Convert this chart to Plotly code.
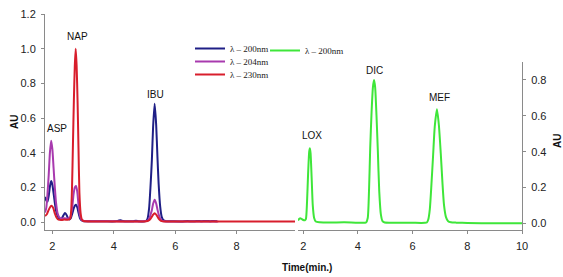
import plotly.graph_objects as go

# ---------------- data ----------------
# Left panel: three wavelengths
t_blue = [1.76, 1.80, 1.84, 1.88, 1.92, 1.96, 2.00, 2.04, 2.08, 2.12, 2.17, 2.22, 2.27, 2.32, 2.37,
          2.41, 2.45, 2.50, 2.55, 2.60, 2.65, 2.70, 2.74, 2.77, 2.81, 2.85, 2.90, 2.95, 3.02, 3.3,
          3.7, 4.05, 4.15, 4.22, 4.30, 4.45, 4.62, 4.72, 4.82, 5.00, 5.05, 5.10, 5.15, 5.20, 5.24,
          5.28, 5.33, 5.38, 5.42, 5.46, 5.51, 5.56, 5.62, 5.70, 5.9, 6.2, 6.4, 6.55, 6.7, 6.85,
          7.0, 7.15, 7.25, 7.36]
v_blue = [0.145, 0.125, 0.118, 0.150, 0.205, 0.236, 0.215, 0.165, 0.110, 0.065, 0.035, 0.020, 0.015, 0.025, 0.042,
          0.052, 0.045, 0.025, 0.015, 0.022, 0.050, 0.082, 0.096, 0.100, 0.085, 0.055, 0.022, 0.010, 0.005, 0.004,
          0.004, 0.004, 0.008, 0.010, 0.006, 0.004, 0.005, 0.008, 0.005, 0.004, 0.006, 0.020, 0.080, 0.220, 0.360,
          0.550, 0.682, 0.560, 0.380, 0.220, 0.090, 0.030, 0.010, 0.005, 0.004, 0.003, 0.006, 0.004, 0.006, 0.005,
          0.006, 0.005, 0.006, 0.004]

t_purple = [1.76, 1.80, 1.84, 1.88, 1.92, 1.96, 2.00, 2.04, 2.08, 2.12, 2.17, 2.22, 2.30, 2.40, 2.50,
            2.58, 2.64, 2.69, 2.73, 2.77, 2.81, 2.85, 2.89, 2.94, 3.00, 3.3, 4.0, 5.00, 5.10, 5.15,
            5.20, 5.24, 5.28, 5.33, 5.38, 5.42, 5.46, 5.51, 5.56, 5.62, 5.8, 6.5, 7.4]
v_purple = [0.055, 0.080, 0.160, 0.270, 0.400, 0.469, 0.420, 0.310, 0.200, 0.110, 0.050, 0.028, 0.020, 0.022, 0.020,
            0.028, 0.075, 0.160, 0.200, 0.208, 0.175, 0.100, 0.045, 0.015, 0.007, 0.004, 0.004, 0.004, 0.008, 0.018,
            0.045, 0.070, 0.105, 0.128, 0.107, 0.073, 0.045, 0.020, 0.008, 0.004, 0.003, 0.003, 0.003]

t_red = [1.76, 1.82, 1.88, 1.94, 1.98, 2.03, 2.08, 2.14, 2.20, 2.30, 2.40, 2.50, 2.58, 2.61, 2.64,
         2.67, 2.70, 2.73, 2.76, 2.79, 2.82, 2.85, 2.88, 2.92, 2.96, 3.02, 3.3, 4.0, 5.00, 5.10,
         5.15, 5.20, 5.24, 5.28, 5.33, 5.38, 5.42, 5.46, 5.51, 5.56, 5.65, 6.5, 8.0, 9.9]
v_red = [0.035, 0.045, 0.070, 0.090, 0.093, 0.080, 0.050, 0.025, 0.014, 0.012, 0.014, 0.013, 0.020, 0.060, 0.200,
         0.450, 0.700, 0.900, 1.000, 0.900, 0.700, 0.430, 0.170, 0.050, 0.015, 0.006, 0.003, 0.003, 0.003, 0.006,
         0.010, 0.020, 0.030, 0.042, 0.050, 0.043, 0.032, 0.020, 0.010, 0.005, 0.003, 0.003, 0.003, 0.003]

# Right panel: 200 nm
t_green = [1.81, 1.85, 1.89, 1.94, 2.00, 2.06, 2.10, 2.14, 2.18, 2.22, 2.245, 2.27, 2.31, 2.35, 2.40,
           2.46, 2.6, 3.0, 3.5, 4.0, 4.30, 4.36, 4.41, 4.45, 4.50, 4.55, 4.59, 4.63, 4.68, 4.73,
           4.78, 4.84, 4.90, 4.98, 5.3, 6.0, 6.45, 6.52, 6.57, 6.63, 6.69, 6.75, 6.81, 6.89, 6.96,
           7.03, 7.09, 7.15, 7.22, 7.30, 7.40, 7.6, 8.0, 9.0, 10.0]
v_green = [0.016, 0.024, 0.028, 0.025, 0.019, 0.017, 0.025, 0.120, 0.280, 0.400, 0.419, 0.390, 0.250, 0.100, 0.030,
           0.010, 0.006, 0.005, 0.006, 0.004, 0.005, 0.030, 0.200, 0.420, 0.620, 0.760, 0.800, 0.760, 0.600, 0.400,
           0.180, 0.050, 0.012, 0.005, 0.004, 0.003, 0.003, 0.005, 0.020, 0.080, 0.220, 0.380, 0.540, 0.637, 0.550,
           0.390, 0.230, 0.100, 0.035, 0.012, 0.006, 0.004, 0.002, 0.000, 0.000]

series_names = ["λ – 200nm", "λ – 204nm", "λ – 230nm"]
green_name = "λ – 200nm"
left_peaks = ["ASP", "NAP", "IBU"]
left_peak_t = [2.15, 2.83, 5.35]
left_peak_v = [0.54, 1.07, 0.737]
right_peaks = ["LOX", "DIC", "MEF"]
right_peak_t = [2.33, 4.61, 6.98]
right_peak_v = [0.49, 0.851, 0.704]
left_xticks = [2, 4, 6, 8]
right_xticks = [2, 4, 6, 8, 10]
left_yticks = [0.0, 0.2, 0.4, 0.6, 0.8, 1.0, 1.2]
right_yticks = [0.0, 0.2, 0.4, 0.6, 0.8]

# ---------------- figure ----------------
W, H = 563, 277
ML, MR, MT, MB = 45, 41, 14, 47
PW, PH = W - ML - MR, H - MT - MB

def px_x(p):
    return (p - ML) / PW

def px_y(p):
    return (H - MB - p) / PH

BLUE = "#1f1f86"
PURPLE = "#a83aae"
RED = "#d81e2c"
GREEN = "#3fe63a"
AXIS = "#8a8a8a"
FONT = "Liberation Sans, Arial, sans-serif"
SERIF = "Liberation Serif, Times New Roman, serif"

fig = go.Figure()
for t, v, c, name, lg in [(t_blue, v_blue, BLUE, series_names[0], "legend"),
                          (t_purple, v_purple, PURPLE, series_names[1], "legend2"),
                          (t_red, v_red, RED, series_names[2], "legend3")]:
    fig.add_trace(go.Scatter(x=t, y=v, mode="lines", name=name, legend=lg,
                             line=dict(color=c, width=2, shape="spline", smoothing=0.6),
                             xaxis="x", yaxis="y"))
fig.add_trace(go.Scatter(x=t_green, y=v_green, mode="lines", name=green_name, legend="legend4",
                         line=dict(color=GREEN, width=2, shape="spline", smoothing=0.6),
                         xaxis="x2", yaxis="y2"))

for name, t, v in zip(left_peaks, left_peak_t, left_peak_v):
    fig.add_annotation(x=t, y=v, xref="x", yref="y", text=name, showarrow=False,
                       font=dict(family=FONT, size=10, color="#111"))
for name, t, v in zip(right_peaks, right_peak_t, right_peak_v):
    fig.add_annotation(x=t, y=v, xref="x2", yref="y2", text=name, showarrow=False,
                       font=dict(family=FONT, size=10, color="#111"))

title_font = dict(family=FONT, size=10, color="#111")
fig.add_annotation(x=px_x(307), y=px_y(267), xref="paper", yref="paper", text="<b>Time(min.)</b>",
                   showarrow=False, xanchor="center", yanchor="middle", font=title_font)
fig.add_annotation(x=px_x(14), y=px_y(122), xref="paper", yref="paper", text="<b>AU</b>",
                   showarrow=False, textangle=-90, xanchor="center", yanchor="middle", font=title_font)
fig.add_annotation(x=px_x(557), y=px_y(141), xref="paper", yref="paper", text="<b>AU</b>",
                   showarrow=False, textangle=-90, xanchor="center", yanchor="middle", font=title_font)

axis_common = dict(showline=True, linecolor=AXIS, linewidth=1, ticks="outside", ticklen=3,
                   tickcolor=AXIS, showgrid=False, zeroline=False, automargin=False,
                   ticklabelstandoff=3,
                   tickfont=dict(family=FONT, size=11, color="#222"))

def legend_at(xpx, ypx):
    return dict(x=px_x(xpx), y=px_y(ypx), xanchor="left", yanchor="top",
                bgcolor="rgba(0,0,0,0)", borderwidth=0, tracegroupgap=0,
                font=dict(family=SERIF, size=9, color="#222"))

fig.update_layout(
    width=W, height=H,
    margin=dict(l=ML, r=MR, t=MT, b=MB),
    paper_bgcolor="white", plot_bgcolor="white",
    showlegend=True,
    xaxis=dict(domain=[0, px_x(295)], range=[1.76, 9.9], tickvals=left_xticks, anchor="y", **axis_common),
    yaxis=dict(domain=[0, 1], range=[-0.046, 1.2], tickvals=left_yticks, tickformat=".1f", anchor="x",
               **axis_common),
    xaxis2=dict(domain=[px_x(298), 1], range=[1.81, 10], tickvals=right_xticks, anchor="y2", **axis_common),
    yaxis2=dict(domain=[0, px_y(62)], range=[-0.037, 0.9], tickvals=right_yticks, tickformat=".1f",
                anchor="x2", side="right", **axis_common),
    legend=legend_at(190, 34),
    legend2=legend_at(190, 47),
    legend3=legend_at(190, 60),
    legend4=legend_at(265, 36),
)

fig.write_html("out.html", config={"displayModeBar": False},
               post_script="document.body.style.margin='0px';")
